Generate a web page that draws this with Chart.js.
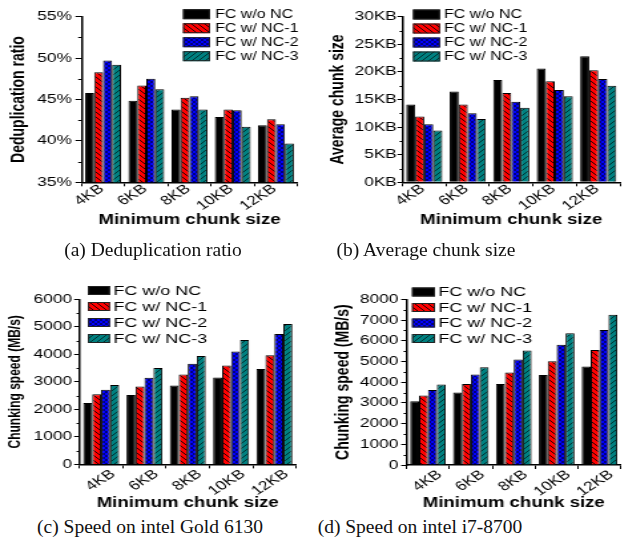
<!DOCTYPE html>
<html><head><meta charset="utf-8">
<script src="https://cdn.jsdelivr.net/npm/chart.js@4.4.0/dist/chart.umd.min.js"></script>
<style>
html,body{margin:0;padding:0;background:#fff;}
body{width:625px;height:547px;overflow:hidden;position:relative;}
.wrap{position:absolute;transform:scaleX(1.33);transform-origin:0 0;}
.cap{position:absolute;font-family:"Liberation Serif","Times New Roman",serif;font-size:19.5px;line-height:24px;color:#111;white-space:nowrap;transform:translateX(-50%);}
</style></head><body>
<div class="wrap" style="left:0px;top:0px;"><canvas id="ca" width="233" height="230"></canvas></div>
<div class="wrap" style="left:310px;top:0px;"><canvas id="cb" width="237" height="230"></canvas></div>
<div class="wrap" style="left:0px;top:260px;"><canvas id="cc" width="233" height="250"></canvas></div>
<div class="wrap" style="left:310px;top:260px;"><canvas id="cd" width="237" height="250"></canvas></div>
<div class="cap" style="left:153px;top:238px;">(a) Deduplication ratio</div>
<div class="cap" style="left:426px;top:238px;">(b) Average chunk size</div>
<div class="cap" style="left:150px;top:515px;">(c) Speed on intel Gold 6130</div>
<div class="cap" style="left:420px;top:515px;">(d) Speed on intel i7-8700</div>
<script>
// ---------- data ----------
const categories = ['4KB', '6KB', '8KB', '10KB', '12KB'];
const seriesNames = ['FC w/o NC', 'FC w/ NC-1', 'FC w/ NC-2', 'FC w/ NC-3'];
const xTitle = 'Minimum chunk size';

const dedupWoNC = [45.8, 44.85, 43.8, 42.9, 41.9];
const dedupNC1  = [48.3, 46.7, 45.2, 43.8, 42.6];
const dedupNC2  = [49.7, 47.5, 45.4, 43.7, 42.0];
const dedupNC3  = [49.2, 46.25, 43.8, 41.7, 39.7];
const dedupTicks = ['35%', '40%', '45%', '50%', '55%'];

const avgWoNC = [14.1, 16.45, 18.55, 20.6, 22.85];
const avgNC1  = [11.9, 14.1, 16.2, 18.3, 20.3];
const avgNC2  = [10.5, 12.5, 14.6, 16.7, 18.7];
const avgNC3  = [9.4, 11.45, 13.5, 15.6, 17.5];
const avgTicks = ['0KB', '5KB', '10KB', '15KB', '20KB', '25KB', '30KB'];

const goldWoNC = [2230, 2520, 2870, 3160, 3470];
const goldNC1  = [2545, 2835, 3265, 3595, 3965];
const goldNC2  = [2710, 3145, 3655, 4100, 4740];
const goldNC3  = [2885, 3505, 3940, 4520, 5100];
const goldTicks = ['0', '1000', '2000', '3000', '4000', '5000', '6000'];

const i7WoNC = [3080, 3500, 3905, 4340, 4760];
const i7NC1  = [3355, 3905, 4470, 5015, 5550];
const i7NC2  = [3615, 4370, 5095, 5805, 6515];
const i7NC3  = [3885, 4725, 5530, 6355, 7260];
const i7Ticks = ['0', '1000', '2000', '3000', '4000', '5000', '6000', '7000', '8000'];

// ---------- styling ----------
const SX = 1.33;
Chart.defaults.font.family = "'Liberation Sans', Arial, Helvetica, sans-serif";
Chart.defaults.color = '#000';

function makePattern(bg, kind, s, lineColor) {
  const c = document.createElement('canvas');
  c.width = s; c.height = s;
  const g = c.getContext('2d');
  g.fillStyle = bg; g.fillRect(0, 0, s, s);
  g.strokeStyle = lineColor; g.lineWidth = 1;
  g.beginPath();
  if (kind === 'back' || kind === 'cross') {
    for (let k = -1; k <= 1; k++) { g.moveTo(k * s, 0); g.lineTo(k * s + s, s); }
  }
  if (kind === 'fwd' || kind === 'cross') {
    for (let k = -1; k <= 1; k++) { g.moveTo(k * s, s); g.lineTo(k * s + s, 0); }
  }
  g.stroke();
  return g.createPattern(c, 'repeat');
}
const fills = [
  '#000000',
  makePattern('#ff0000', 'back', 5, 'rgba(0,0,0,0.85)'),
  makePattern('#0000ff', 'cross', 4, 'rgba(0,0,40,0.6)'),
  makePattern('#008080', 'fwd', 5, 'rgba(0,30,30,0.8)')
];

const minorTicks = {
  id: 'minorTicks',
  afterDraw(chart, args, o) {
    const y = chart.scales.y, ctx = chart.ctx;
    const step = y.options.ticks.stepSize / 2;
    ctx.save();
    ctx.strokeStyle = '#000'; ctx.lineWidth = 1;
    ctx.beginPath();
    for (let v = y.min + step; v < y.max; v += 2 * step) {
      const py = Math.round(y.getPixelForValue(v)) + 0.5;
      ctx.moveTo(y.right, py); ctx.lineTo(y.right - o.len, py);
    }
    ctx.stroke();
    ctx.restore();
  }
};

const boxLegend = {
  id: 'boxLegend',
  afterDraw(chart, args, o) {
    const ctx = chart.ctx;
    ctx.save();
    ctx.font = o.font;
    ctx.textBaseline = 'middle';
    ctx.textAlign = 'left';
    chart.data.datasets.forEach((ds, i) => {
      const cy = o.y0 + i * o.dy;
      ctx.fillStyle = ds.backgroundColor;
      ctx.fillRect(o.x, cy - o.h / 2, o.w, o.h);
      ctx.strokeStyle = '#222'; ctx.lineWidth = 1;
      ctx.strokeRect(o.x + 0.5, cy - o.h / 2 + 0.5, o.w - 1, o.h - 1);
      ctx.fillStyle = '#000';
      ctx.fillText(ds.label, o.tx, cy + 0.5);
    });
    ctx.restore();
  }
};

function panel(id, g, values, ymin, ymax, step, tickLabels, yTitle) {
  const W = document.getElementById(id).width;
  const H = document.getElementById(id).height;
  const yWidth = (g.plotLeft - g.L) / SX;
  const xHeight = g.T + H - g.plotBottom;
  const padRight = W - (g.plotRight - g.L) / SX;
  const lh = g.yTitleSize * 1.2;
  new Chart(document.getElementById(id), {
    type: 'bar',
    data: {
      labels: categories,
      datasets: values.map((v, i) => ({
        label: seriesNames[i], data: v,
        backgroundColor: fills[i], borderColor: '#000', borderWidth: 1,
        categoryPercentage: 0.83, barPercentage: 1.0
      }))
    },
    options: {
      responsive: false, animation: false, devicePixelRatio: 1,
      layout: { padding: { left: 0, top: g.plotTop - g.T, right: padRight, bottom: 0 } },
      plugins: {
        legend: { display: false }, tooltip: { enabled: false },
        minorTicks: { len: g.minorLen },
        boxLegend: {
          font: g.legSize + "px 'Liberation Sans', Arial, sans-serif",
          x: (g.legX0 - g.L) / SX, w: (g.legX1 - g.legX0) / SX, h: g.legH,
          y0: g.legY0 - g.T, dy: g.legDy, tx: (g.legTx - g.L) / SX
        }
      },
      scales: {
        x: {
          border: { display: true, color: '#000', width: 1.5 },
          grid: { display: true, drawOnChartArea: false, tickLength: 4, color: '#000', tickColor: '#000', offset: true },
          ticks: { font: { size: 13 }, maxRotation: 40, minRotation: 40, autoSkip: false, padding: g.xPad, labelOffset: g.xLabelOffset },
          title: { display: true, text: xTitle, font: { size: 14, weight: 'bold' }, padding: { top: 0, bottom: g.xTitleCenterFromBottom - 8.4 } },
          afterFit: s => { s.height = xHeight; }
        },
        y: {
          min: ymin, max: ymax,
          border: { display: true, color: '#000', width: 1.5 },
          grid: { display: true, drawOnChartArea: false, tickLength: g.tickLen, color: '#000', tickColor: '#000' },
          ticks: { stepSize: step, font: { size: 13 }, padding: g.yPad, callback: (v, i) => tickLabels[i] },
          title: { display: true, text: yTitle, font: { size: g.yTitleSize, weight: 'bold' }, padding: { top: (g.yTitleCenter - g.L) / SX - lh / 2, bottom: 0 } },
          afterFit: s => { s.width = yWidth; }
        }
      }
    },
    plugins: [minorTicks, boxLegend]
  });
}

panel('ca', { L: 0, T: 0, plotLeft: 81.5, plotRight: 297.5, plotTop: 16.7, plotBottom: 182.3,
  yTitleCenter: 18.3, yTitleSize: 14, tickLen: 4.5, yPad: 2.8, minorLen: 2.5, xPad: -5, xLabelOffset: -1,
  xTitleCenterFromBottom: 10,
  legX0: 183, legX1: 210, legH: 10, legY0: 14.2, legDy: 14, legTx: 215, legSize: 12 },
  [dedupWoNC, dedupNC1, dedupNC2, dedupNC3], 35, 55, 5, dedupTicks, 'Deduplication ratio');

panel('cb', { L: 310, T: 0, plotLeft: 402.5, plotRight: 620, plotTop: 16.7, plotBottom: 182.3,
  yTitleCenter: 338, yTitleSize: 14, tickLen: 3.8, yPad: 0.5, minorLen: 2.2, xPad: -5, xLabelOffset: -1,
  xTitleCenterFromBottom: 10,
  legX0: 413, legX1: 440, legH: 10, legY0: 14.5, legDy: 14, legTx: 444, legSize: 12 },
  [avgWoNC, avgNC1, avgNC2, avgNC3], 0, 30, 5, avgTicks, 'Average chunk size');

panel('cc', { L: 0, T: 260, plotLeft: 79.5, plotRight: 296, plotTop: 299.3, plotBottom: 464.4,
  yTitleCenter: 16, yTitleSize: 12, tickLen: 4, yPad: 1.5, minorLen: 2.2, xPad: -2, xLabelOffset: 9,
  xTitleCenterFromBottom: 7,
  legX0: 88, legX1: 110, legH: 9, legY0: 290.5, legDy: 16, legTx: 113.5, legSize: 13.5 },
  [goldWoNC, goldNC1, goldNC2, goldNC3], 0, 6000, 1000, goldTicks, 'Chunking speed (MB/s)');

panel('cd', { L: 310, T: 260, plotLeft: 406.5, plotRight: 621, plotTop: 299.3, plotBottom: 465,
  yTitleCenter: 344, yTitleSize: 14, tickLen: 4, yPad: 2.2, minorLen: 2.2, xPad: -2, xLabelOffset: 9,
  xTitleCenterFromBottom: 7,
  legX0: 412, legX1: 435, legH: 9, legY0: 292, legDy: 15.5, legTx: 438.5, legSize: 13.5 },
  [i7WoNC, i7NC1, i7NC2, i7NC3], 0, 8000, 1000, i7Ticks, 'Chunking speed (MB/s)');
</script>
</body></html>
